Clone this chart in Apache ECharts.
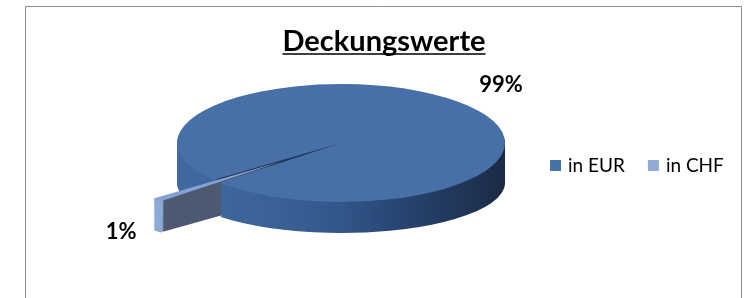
<!DOCTYPE html>
<html>
<head>
<meta charset="utf-8">
<script src="https://cdn.jsdelivr.net/npm/echarts@6/dist/echarts.min.js"></script>
<style>
  html, body { margin: 0; padding: 0; background: #fff; }
  #chart { width: 750px; height: 298px; }
</style>
</head>
<body>
<div id="chart"></div>
<script>
// Daten
const categories = ['in EUR', 'in CHF'];
const values = [99, 1];
const chartTitle = 'Deckungswerte';

// Aussehen (Farben der Segmente)
const topColors = ['#4770a8', '#86a2d2'];
const legendColors = ['#4672aa', '#93aad6'];
const innerColors = ['#22385a', '#4e5a72'];
const rimColors = [null, '#8eaad6'];

// Geometrie der "3D"-Torte
const cx = 341, cyTop = 143, rx = 164, ryTop = 59, ryBottom = 50, depth = 40;
const startDeg = 141.1;          // Beginn von "in EUR", im Uhrzeigersinn
const explodeDist = [0, 79];     // herausgezogenes Segment
const fontFamily = 'Lato, "Open Sans", sans-serif';
const titleFont = 'bold 29px ' + fontFamily;

const total = values.reduce((a, b) => a + b, 0);

function sliceAngles(i) {
  let acc = 0;
  for (let j = 0; j < i; j++) acc += values[j];
  const a0 = (startDeg + acc / total * 360) * Math.PI / 180;
  const a1 = (startDeg + (acc + values[i]) / total * 360) * Math.PI / 180;
  return [a0, a1];
}

function wallGradient() {
  return new echarts.graphic.LinearGradient(-rx, 0, rx, 0, [
    { offset: 0, color: '#4069a0' },
    { offset: 0.3, color: '#3a6298' },
    { offset: 0.5, color: '#31568a' },
    { offset: 0.75, color: '#253f68' },
    { offset: 1, color: '#1b2a44' }
  ], true);
}

function renderSlice(params, api) {
  const i = params.seriesIndex;
  const [a0, a1] = sliceAngles(i);
  const mid = (a0 + a1) / 2;
  const ox = Math.cos(mid) * explodeDist[i];
  const oy = Math.sin(mid) * explodeDist[i];
  const children = [];

  // Schichten von unten nach oben (Maleralgorithmus ueber z2)
  for (let k = depth; k >= 0; k--) {
    const ry = ryTop + (ryBottom - ryTop) * k / depth;
    const sec = (r0, r, fill, z2) => ({
      type: 'sector',
      shape: { cx: ox, cy: oy, r0: r0, r: r, startAngle: a0, endAngle: a1, clockwise: true },
      style: { fill: fill },
      z2: z2,
      silent: true
    });
    let parts;
    if (k === 0) {
      parts = [sec(0, rx, topColors[i], depth + 2)];
    } else {
      parts = [
        sec(0, rx - 5, innerColors[i], depth - k),
        sec(rx - 5, rx, rimColors[i] || wallGradient(), depth - k)
      ];
    }
    children.push({
      type: 'group',
      x: cx,
      y: cyTop + k,
      scaleY: ry / rx,
      children: parts
    });
  }

  // Prozent-Beschriftung
  const c = Math.cos(mid), s = Math.sin(mid);
  let lx = cx + ox + rx * c;
  let ly = cyTop + (oy + rx * s) * ryTop / rx;
  if (s > 0) ly += depth * 0.3;
  lx += c * 47;
  ly += s * 30;
  children.push({
    type: 'text',
    x: lx,
    y: ly,
    z2: 1000,
    style: {
      text: Math.round(values[i] / total * 100) + '%',
      font: 'bold 22px ' + fontFamily,
      fill: '#000',
      align: 'center',
      verticalAlign: 'middle'
    }
  });

  return { type: 'group', children: children };
}

const chart = echarts.init(document.getElementById('chart'));

const titleX = 384;
const titleW = new echarts.graphic.Text({ style: { text: chartTitle, font: titleFont } })
  .getBoundingRect().width;

const option = {
  backgroundColor: '#fff',
  animation: false,
  legend: {
    left: 545,
    top: 151,
    icon: 'rect',
    itemWidth: 11,
    itemHeight: 11,
    itemGap: 23,
    selectedMode: false,
    data: categories,
    textStyle: { fontFamily: fontFamily, fontSize: 19, color: '#000', padding: [0, 0, 0, 2] }
  },
  graphic: [
    {
      type: 'rect',
      shape: { x: 25.5, y: 6.5, width: 716, height: 320 },
      style: { fill: 'none', stroke: '#8c8c8c', lineWidth: 1 },
      silent: true
    },
    {
      type: 'text',
      x: titleX,
      y: 42,
      style: { text: chartTitle, font: titleFont, fill: '#000', align: 'center', verticalAlign: 'middle' },
      silent: true
    },
    {
      type: 'line',
      shape: { x1: titleX - titleW / 2, y1: 54, x2: titleX + titleW / 2, y2: 54 },
      style: { stroke: '#000', lineWidth: 1.6 },
      silent: true
    }
  ],
  series: categories.map((name, i) => ({
    name: name,
    type: 'custom',
    coordinateSystem: 'none',
    itemStyle: { color: legendColors[i] },
    renderItem: renderSlice,
    data: [[values[i]]]
  }))
};

chart.setOption(option);
</script>
</body>
</html>
